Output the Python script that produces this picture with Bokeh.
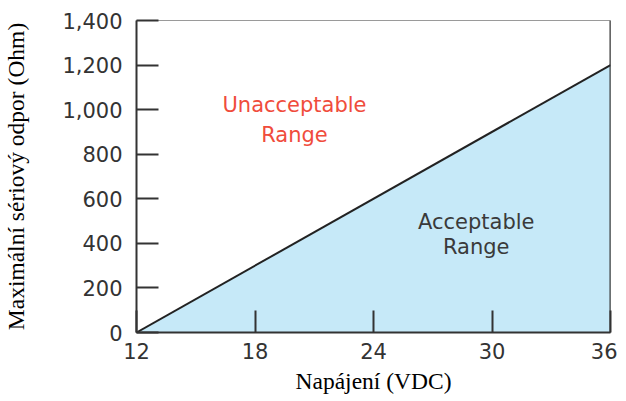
from bokeh.plotting import figure
from bokeh.models import Range1d, FixedTicker, NumeralTickFormatter, Span
from bokeh.core.properties import value
from bokeh.embed import file_html
from bokeh.resources import INLINE

# Data
supply_vdc = [12, 36]
max_resistance = [0, 1200]
x_ticks = [12, 18, 24, 30, 36]
y_ticks = [0, 200, 400, 600, 800, 1000, 1200, 1400]

label_texts = ["Unacceptable", "Range", "Acceptable", "Range"]
label_x = [20.0, 20.0, 29.2, 29.2]
label_y = [1020, 885, 495, 385]
label_colors = ["#f04c3c", "#f04c3c", "#3a3a3a", "#3a3a3a"]

p = figure(output_backend="svg", toolbar_location=None,
           x_range=Range1d(12, 36), y_range=Range1d(0, 1400),
           frame_width=474, frame_height=312,
           min_border_left=133, min_border_right=7, min_border_top=20, min_border_bottom=40)
p.grid.visible = False
p.background_fill_color = "white"
p.outline_line_color = "#9a9a9a"
p.outline_line_width = 1

p.varea(x=supply_vdc, y1=[0, 0], y2=max_resistance, fill_color="#c6e9f8")
p.line(x=supply_vdc, y=max_resistance, line_color="#222222", line_width=2)
p.add_layout(Span(location=supply_vdc[-1], dimension="height",
                  line_color="#333333", line_width=2))

p.text(x=label_x, y=label_y, text=label_texts, text_color=label_colors,
       text_font=value("DejaVu Sans"), text_font_size="21px",
       text_align="center", text_baseline="middle")

for ax in (p.xaxis[0], p.yaxis[0]):
    ax.axis_line_color = "#333333"
    ax.axis_line_width = 2
    ax.major_tick_line_color = "#333333"
    ax.major_tick_line_width = 2
    ax.major_tick_in = 22
    ax.major_tick_out = 0
    ax.minor_tick_line_color = None
    ax.major_label_text_font = "DejaVu Sans"
    ax.major_label_text_font_size = "21px"
    ax.major_label_text_color = "#333333"
    ax.axis_label_text_font = "Liberation Serif"
    ax.axis_label_text_font_size = "23.5px"
    ax.axis_label_text_font_style = "normal"
    ax.axis_label_text_color = "#000000"

p.xaxis.ticker = FixedTicker(ticks=x_ticks)
p.yaxis.ticker = FixedTicker(ticks=y_ticks)
p.yaxis.formatter = NumeralTickFormatter(format="0,0")
p.xaxis.axis_label = "Napájení (VDC)"
p.yaxis.axis_label = "Maximální sériový odpor (Ohm)"
p.yaxis.major_label_standoff = 14
p.yaxis.axis_label_standoff = 30
p.xaxis.major_label_standoff = 10
p.xaxis.axis_label_standoff = 6

open("out.html", "w").write(file_html(p, INLINE))
